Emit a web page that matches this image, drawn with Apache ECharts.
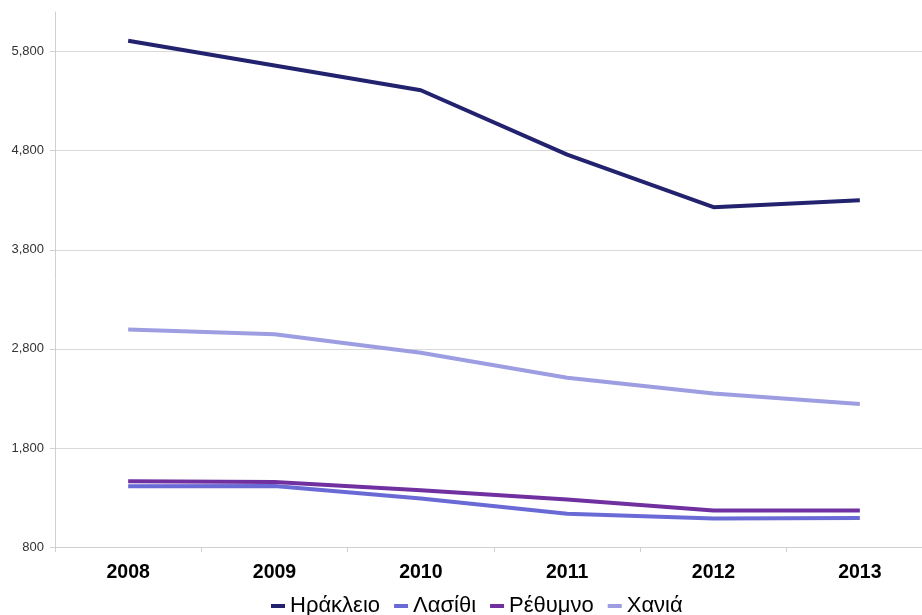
<!DOCTYPE html>
<html>
<head>
<meta charset="utf-8">
<script src="https://cdn.jsdelivr.net/npm/echarts@6/dist/echarts.min.js"></script>
<style>
html,body{margin:0;padding:0;background:#fff;overflow:hidden;width:922px;height:615px;}
#chart{width:933px;height:615px;}
</style>
</head>
<body>
<div id="chart"></div>
<script>
const years = ['2008', '2009', '2010', '2011', '2012', '2013'];
const heraklion = [5910, 5660, 5410, 4760, 4230, 4300];
const lasithi = [1414, 1415, 1290, 1135, 1087, 1093];
const rethymno = [1464, 1457, 1373, 1280, 1169, 1169];
const chania = [2996, 2948, 2760, 2508, 2350, 2243];
const seriesNames = ['Ηράκλειο', 'Λασίθι', 'Ρέθυμνο', 'Χανιά'];
const seriesColors = ['#22226e', '#6a6ad6', '#7030a0', '#9d9de2'];
const yTicks = [800, 1800, 2800, 3800, 4800, 5800];

const seriesData = [heraklion, lasithi, rethymno, chania];

const chart = echarts.init(document.getElementById('chart'));
chart.setOption({
  animation: false,
  backgroundColor: '#ffffff',
  color: seriesColors,
  grid: { left: 55, right: 0, top: 12, bottom: 68 },
  legend: {
    top: 590,
    left: 266,
    icon: 'rect',
    itemWidth: 14,
    itemHeight: 4,
    itemGap: 14,
    textStyle: { fontFamily: 'Liberation Sans', fontSize: 22, color: '#000' },
    data: seriesNames
  },
  xAxis: {
    type: 'category',
    data: years,
    boundaryGap: true,
    axisLine: { lineStyle: { color: '#d0d0d0', width: 1 } },
    axisTick: { show: true, length: 5, lineStyle: { color: '#d0d0d0' } },
    axisLabel: { fontFamily: 'Liberation Sans', fontSize: 19.5, fontWeight: 'bold', color: '#000', margin: 16 }
  },
  yAxis: {
    type: 'value',
    min: 800,
    max: 6200,
    interval: 1000,
    axisLine: { show: true, lineStyle: { color: '#d0d0d0', width: 1 } },
    axisTick: { show: true, length: 5, lineStyle: { color: '#d0d0d0' }, customValues: yTicks },
    axisLabel: {
      fontFamily: 'Liberation Sans', fontSize: 13, color: '#333', margin: 11,
      customValues: yTicks,
      formatter: v => v.toLocaleString('en-US')
    },
    splitLine: { show: true, lineStyle: { color: ['#d9d9d9','#d9d9d9','#d9d9d9','#d9d9d9','#d9d9d9','#d9d9d9','rgba(0,0,0,0)'], width: 1 } }
  },
  series: seriesNames.map((name, i) => ({
    name: name,
    type: 'line',
    data: seriesData[i],
    showSymbol: false,
    symbol: 'none',
    lineStyle: { width: 4, color: seriesColors[i] },
    itemStyle: { color: seriesColors[i] }
  }))
});
</script>
</body>
</html>
